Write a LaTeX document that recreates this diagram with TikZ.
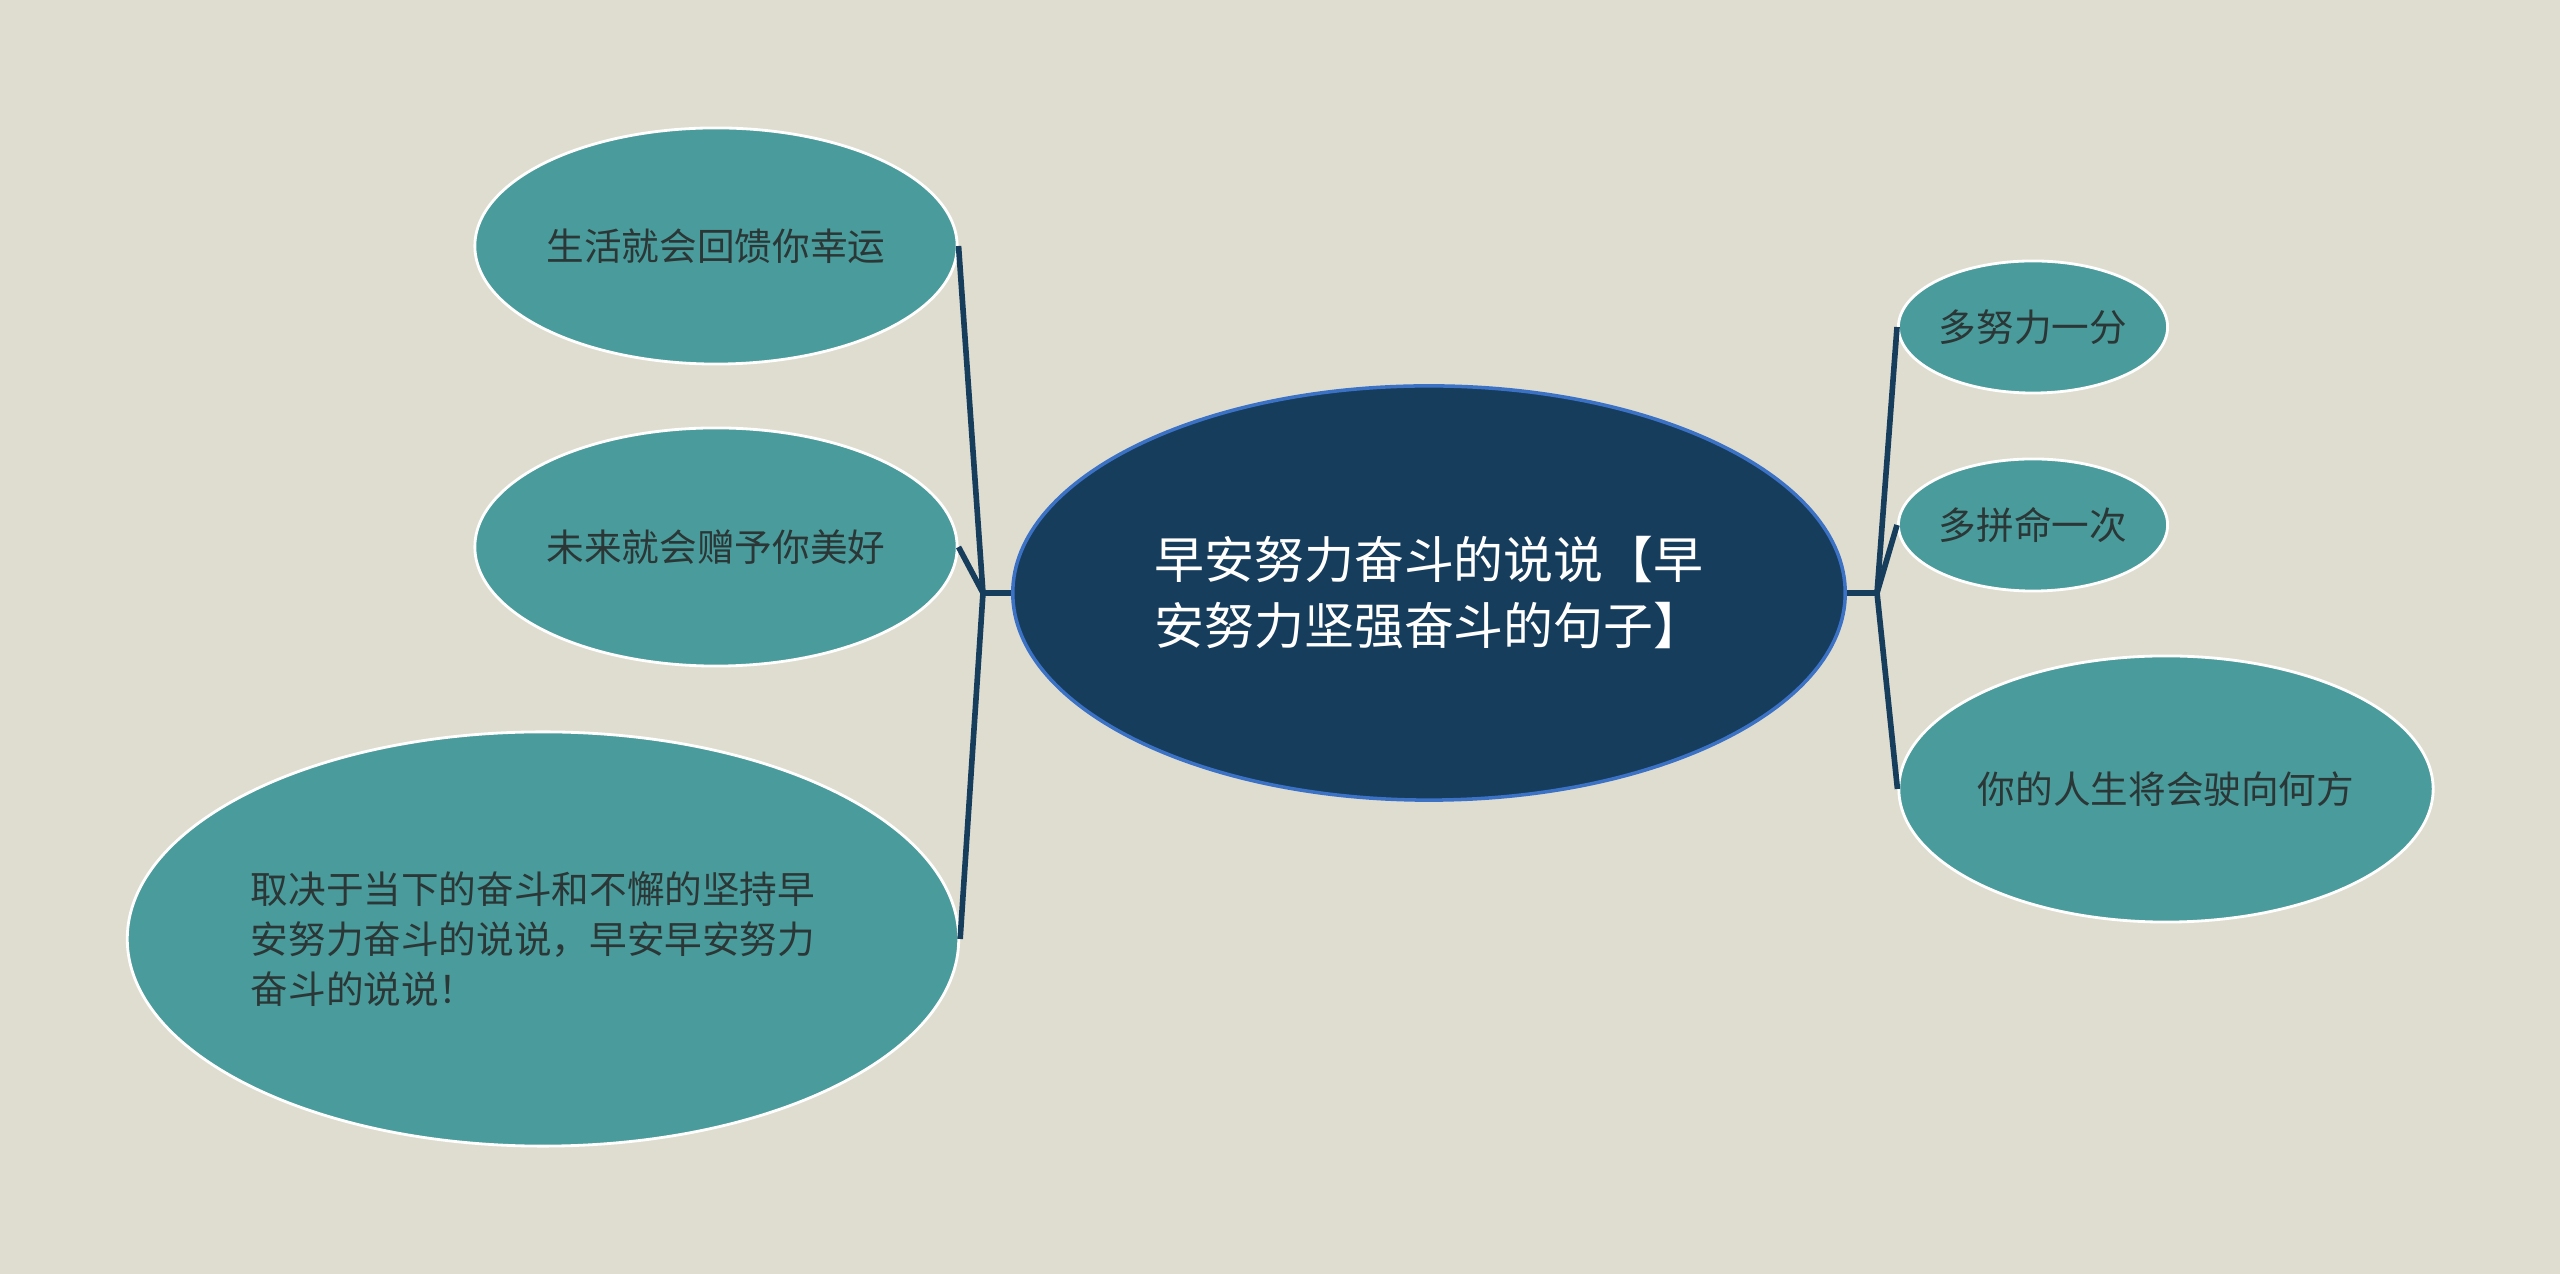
\documentclass[tikz,border=0pt]{standalone}
\usepackage{fontspec}
\setmainfont{Noto Sans CJK SC}
\usetikzlibrary{shapes.geometric}
\definecolor{bgpaper}{HTML}{DFDDD0}
\definecolor{rootblue}{HTML}{173D5C}
\definecolor{rootedge}{HTML}{3B72C6}
\definecolor{leafteal}{HTML}{4A9B9B}
\definecolor{leaftext}{HTML}{2B3636}

\begin{document}
\begin{tikzpicture}[x=0.01cm,y=-0.01cm,
        root/.style={ellipse, fill=rootblue, draw=rootedge, line width=1pt, inner sep=0pt,
            minimum width=8.32cm, minimum height=4.14cm, text=white, align=left,
            font=\fontsize{14.2pt}{18.8pt}\selectfont},
        leaf/.style={ellipse, fill=leafteal, draw=white, line width=0.8pt, inner sep=0pt,
            text=leaftext, align=left, font=\fontsize{10.7pt}{14.2pt}\selectfont},
        link/.style={draw=rootblue, line width=1.6pt}
    ]
    \useasboundingbox[fill=bgpaper] (0,0) rectangle (2560,1274);
    \node[root] (root) at (1429,593) {早安努力奋斗的说说【早\\安努力坚强奋斗的句子】};
    \node[leaf, minimum width=4.82cm, minimum height=2.36cm] (life) at (716,246) {生活就会回馈你幸运};
    \node[leaf, minimum width=4.82cm, minimum height=2.38cm] (future) at (716,547) {未来就会赠予你美好};
    \node[leaf, minimum width=8.31cm, minimum height=4.14cm, text width=5.84cm] (depend) at (543,939)
        {取决于当下的奋斗和不懈的坚持早\\安努力奋斗的说说，早安早安努力\\奋斗的说说！};
    \node[leaf, minimum width=2.69cm, minimum height=1.32cm] (effort) at (2033,327) {多努力一分};
    \node[leaf, minimum width=2.69cm, minimum height=1.32cm] (strive) at (2033,525) {多拼命一次};
    \node[leaf, minimum width=5.34cm, minimum height=2.66cm] (future2) at (2166,789) {你的人生将会驶向何方};
    \coordinate (lhub) at ([xshift=-0.28cm]root.west);
    \coordinate (rhub) at ([xshift=0.30cm]root.east);
    \draw[link] (root.west) -- (lhub);
    \draw[link] (lhub) -- (life.east);
    \draw[link] (lhub) -- (future.east);
    \draw[link] (lhub) -- (depend.east);
    \draw[link] (root.east) -- (rhub);
    \draw[link] (rhub) -- (effort.west);
    \draw[link] (rhub) -- (strive.west);
    \draw[link] (rhub) -- (future2.west);
\end{tikzpicture}
\end{document}
